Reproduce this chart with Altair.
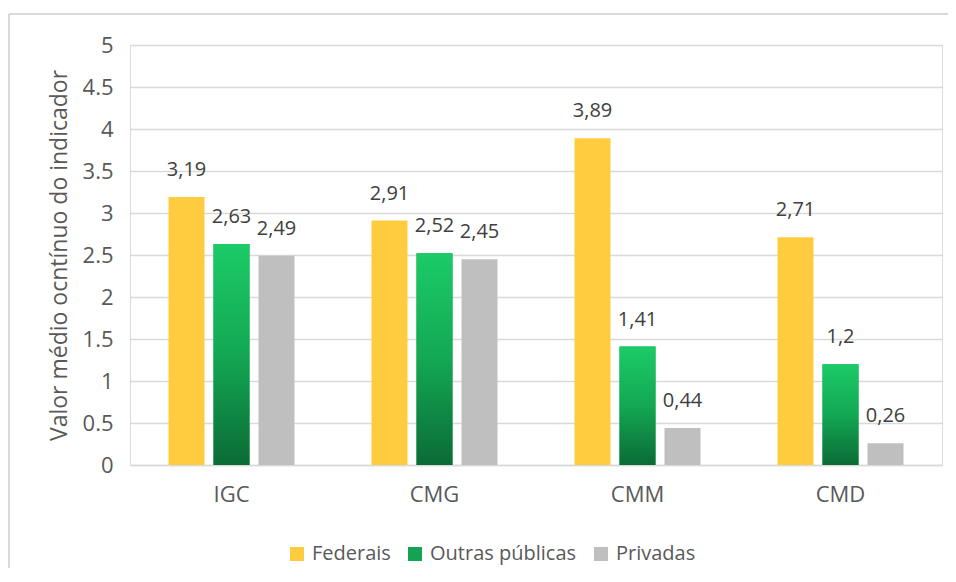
import altair as alt
import pandas as pd

categories = ["IGC", "CMG", "CMM", "CMD"]
series = ["Federais", "Outras públicas", "Privadas"]
federais = [3.19, 2.91, 3.89, 2.71]
outras_publicas = [2.63, 2.52, 1.41, 1.20]
privadas = [2.49, 2.45, 0.44, 0.26]
y_ticks = [0, 0.5, 1, 1.5, 2, 2.5, 3, 3.5, 4, 4.5, 5]
colors = ["#FFCC3F", "#14A352", "#BFBFBF"]

rows = []
for s, vals in zip(series, [federais, outras_publicas, privadas]):
    for c, v in zip(categories, vals):
        rows.append({"cat": c, "series": s, "value": v,
                     "label": f"{v:g}".replace(".", ",")})
df = pd.DataFrame(rows)

FONT = "Open Sans"
GRAY_TXT = "#595959"

x_enc = alt.X("cat:N", sort=categories,
              scale=alt.Scale(paddingInner=0.335, paddingOuter=0.1675),
              axis=alt.Axis(title=None, labelAngle=0, ticks=False, domain=True,
                            domainColor="#D9D9D9", domainWidth=1.3,
                            labelFont=FONT, labelFontSize=22, labelColor=GRAY_TXT,
                            labelPadding=19))
xo_enc = alt.XOffset("series:N", sort=series,
                     scale=alt.Scale(paddingInner=0.2, paddingOuter=0.1))
y_enc = alt.Y("value:Q",
              scale=alt.Scale(domain=[0, 5], nice=False),
              axis=alt.Axis(values=y_ticks, format="~g", domain=False, ticks=False,
                            grid=True, gridColor="#D9D9D9", gridWidth=1.3,
                            labelPadding=17, labelFont=FONT, labelFontSize=22,
                            labelColor=GRAY_TXT,
                            title="Valor médio ocntínuo do indicador",
                            titleFont=FONT, titleFontSize=23, titleColor=GRAY_TXT,
                            titleFontWeight="normal", titlePadding=11))

base = alt.Chart(df)

bars = base.mark_bar().encode(
    x=x_enc, xOffset=xo_enc, y=y_enc,
    color=alt.Color("series:N", sort=series,
                    scale=alt.Scale(domain=series, range=colors),
                    legend=alt.Legend(orient="none", legendX=157, legendY=499,
                                      direction="horizontal", title=None,
                                      symbolType="square", symbolSize=196,
                                      symbolStrokeWidth=0, labelFont=FONT,
                                      labelFontSize=20, labelColor=GRAY_TXT,
                                      labelOffset=5, columnPadding=14)),
)

green = base.transform_filter(alt.datum.series == "Outras públicas").mark_bar(
    color=alt.Gradient(
        gradient="linear",
        stops=[alt.GradientStop(color="#1BCB66", offset=0),
               alt.GradientStop(color="#13A854", offset=0.5),
               alt.GradientStop(color="#0B6B35", offset=1)],
        x1=0, x2=0, y1=0, y2=1)
).encode(x=x_enc, xOffset=xo_enc, y=y_enc)

text = base.mark_text(font=FONT, fontSize=20, color="#404040",
                      baseline="alphabetic", dy=-21).encode(
    x=x_enc, xOffset=xo_enc, y=y_enc, text="label:N")

frame_df = pd.DataFrame({"k": [0]})
left_line = alt.Chart(frame_df).mark_rule(color="#D9D9D9", strokeWidth=2).encode(
    x=alt.value(-121), y=alt.value(-31), y2=alt.value(700))
top_line = alt.Chart(frame_df).mark_rule(color="#D9D9D9", strokeWidth=2).encode(
    y=alt.value(-31), x=alt.value(-121), x2=alt.value(900))

chart = alt.layer(bars, green, text, left_line, top_line).properties(
    width=812, height=420,
    autosize=alt.AutoSizeParams(type="none"),
    padding={"left": 122, "top": 37, "right": 6, "bottom": 103},
).configure_view(stroke=None).configure(font=FONT)

chart.save("out.html", embed_options={"renderer": "svg", "actions": False})
